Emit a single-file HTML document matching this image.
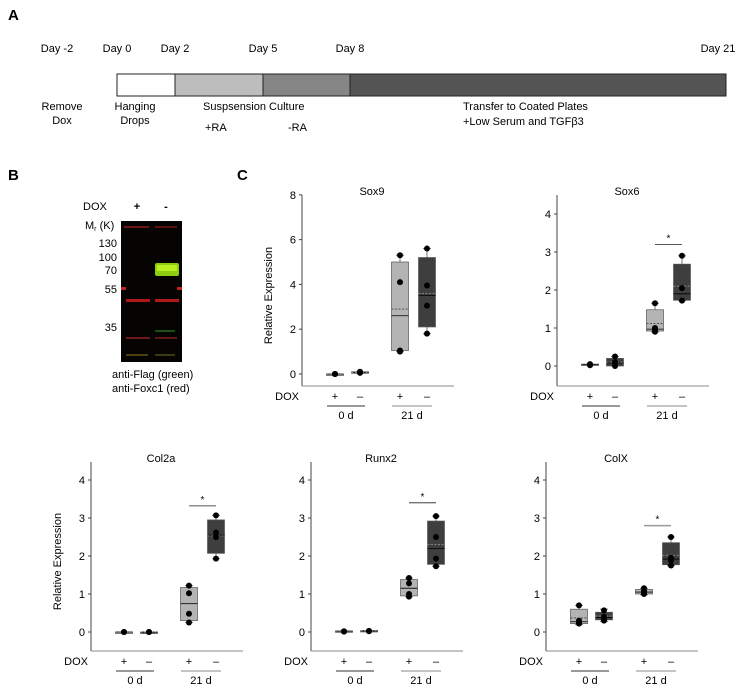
<!DOCTYPE html>
<html><head><meta charset="utf-8">
<style>
html,body{margin:0;padding:0;background:#fff;}
svg{display:block;font-family:"Liberation Sans",sans-serif;}
</style></head>
<body>
<svg id="fig" width="738" height="690" viewBox="0 0 738 690" xmlns="http://www.w3.org/2000/svg">
  <!-- Panel A -->
  <g font-size="11" fill="#000">
    <text x="8" y="20" font-size="15" font-weight="bold">A</text>
    <text x="57" y="52" text-anchor="middle">Day -2</text>
    <text x="117" y="52" text-anchor="middle">Day 0</text>
    <text x="175" y="52" text-anchor="middle">Day 2</text>
    <text x="263" y="52" text-anchor="middle">Day 5</text>
    <text x="350" y="52" text-anchor="middle">Day 8</text>
    <text x="718" y="52" text-anchor="middle">Day 21</text>
    <rect x="117" y="74" width="58" height="22" fill="#fff" stroke="#222"/>
    <rect x="175" y="74" width="88" height="22" fill="#bdbdbd" stroke="#222"/>
    <rect x="263" y="74" width="87" height="22" fill="#858585" stroke="#222"/>
    <rect x="350" y="74" width="376" height="22" fill="#545454" stroke="#222"/>
    <text text-anchor="middle"><tspan x="62" y="110">Remove</tspan><tspan x="62" y="124">Dox</tspan></text>
    <text text-anchor="middle"><tspan x="135" y="110">Hanging</tspan><tspan x="135" y="124">Drops</tspan></text>
    <text x="203" y="110">Suspsension Culture</text>
    <text x="205" y="131">+RA</text>
    <text x="288" y="131">-RA</text>
    <text x="463" y="110">Transfer to Coated Plates</text>
    <text x="463" y="125">+Low Serum and TGFβ3</text>
  </g>
  <!-- Panel B -->
  <g font-size="11">
    <text x="8" y="180" font-size="15" font-weight="bold">B</text>
    <text x="83" y="210">DOX</text>
    <text x="137" y="210" text-anchor="middle" font-weight="bold">+</text>
    <text x="166" y="210" text-anchor="middle" font-weight="bold">-</text>
    <text x="85" y="229">M<tspan font-size="7" dy="2">r</tspan><tspan dy="-2"> (K)</tspan></text>
    <rect x="121" y="221" width="61" height="141" fill="#060303"/>
    <rect x="124" y="226" width="25" height="2" fill="#6a1414"/>
    <rect x="155" y="226" width="22" height="2" fill="#5a1010"/>
    <rect x="155" y="263" width="24" height="13" rx="2" fill="#8ecc10"/>
    <rect x="157" y="265" width="20" height="6" fill="#b8f020"/>
    <rect x="121" y="287" width="5" height="3" fill="#c02020"/>
    <rect x="177" y="287" width="5" height="3" fill="#c02020"/>
    <rect x="126" y="299" width="24" height="3" fill="#b01818"/>
    <rect x="155" y="299" width="24" height="3" fill="#b01818"/>
    <rect x="155" y="330" width="20" height="2" fill="#1a5010"/>
    <rect x="126" y="337" width="24" height="2" fill="#701818"/>
    <rect x="155" y="337" width="22" height="2" fill="#601515"/>
    <rect x="126" y="354" width="22" height="2" fill="#4a4010"/>
    <rect x="155" y="354" width="20" height="2" fill="#3a3a10"/>
    <g text-anchor="end">
      <text x="117" y="247">130</text><text x="117" y="261">100</text><text x="117" y="274">70</text>
      <text x="117" y="293">55</text><text x="117" y="331">35</text>
    </g>
    <text x="112" y="378">anti-Flag (green)</text>
    <text x="112" y="392">anti-Foxc1 (red)</text>
  </g>
  <text x="237" y="180" font-size="15" font-weight="bold">C</text>
  <g id="charts"></g>
</svg>
<script>
// Box stats per group: [q1, median, q3, mean, whiskerLow, whiskerHigh]; groups: 0d+, 0d-, 21d+, 21d-
const groupSigns = ["+", "\u2013", "+", "\u2013"];
const dayLabels = ["0 d", "21 d"];
const sox9Ticks = [0, 2, 4, 6, 8];
const smallTicks = [0, 1, 2, 3, 4];
const sox9Points = [[0, 0, 0], [0.05, 0.1, 0.08], [5.3, 4.1, 1.05, 1.0], [5.6, 3.95, 3.05, 1.8]];
const sox9Box = [[0, 0, 0, 0, 0, 0], [0.03, 0.07, 0.1, 0.07, 0.03, 0.1], [1.05, 2.6, 5.0, 2.9, 1.0, 5.3], [2.1, 3.5, 5.2, 3.6, 1.8, 5.6]];
const sox6Points = [[0.05, 0.02], [0.25, 0.0, 0.1], [1.65, 1.0, 0.95, 0.9], [2.9, 2.05, 1.72]];
const sox6Box = [[0.02, 0.04, 0.05, 0.04, 0.02, 0.05], [0.0, 0.08, 0.2, 0.1, 0.0, 0.25], [0.92, 0.97, 1.48, 1.12, 0.9, 1.65], [1.73, 1.9, 2.68, 2.1, 1.72, 2.9]];
const sox6Star = 3.2;
const col2aPoints = [[0, 0], [0, 0], [1.22, 1.02, 0.48, 0.25], [3.07, 2.62, 2.5, 1.93]];
const col2aBox = [[0, 0, 0, 0, 0, 0], [0, 0, 0, 0, 0, 0], [0.3, 0.75, 1.17, 0.74, 0.25, 1.22], [2.07, 2.55, 2.95, 2.53, 1.93, 3.07]];
const col2aStar = 3.32;
const runx2Points = [[0.02, 0.01], [0.03, 0.02], [1.42, 1.28, 1.0, 0.93], [3.05, 2.5, 1.93, 1.73]];
const runx2Box = [[0.0, 0.02, 0.03, 0.02, 0.0, 0.03], [0.01, 0.03, 0.04, 0.03, 0.01, 0.04], [0.95, 1.15, 1.38, 1.16, 0.93, 1.42], [1.78, 2.2, 2.92, 2.3, 1.73, 3.05]];
const runx2Star = 3.4;
const colxPoints = [[0.7, 0.3, 0.25, 0.22], [0.57, 0.4, 0.35, 0.3], [1.15, 1.08, 1.02, 1.0], [2.5, 1.95, 1.88, 1.75]];
const colxBox = [[0.22, 0.27, 0.6, 0.37, 0.2, 0.7], [0.32, 0.38, 0.52, 0.42, 0.28, 0.6], [1.0, 1.05, 1.12, 1.06, 0.98, 1.15], [1.77, 1.92, 2.35, 2.02, 1.75, 2.5]];
const colxStar = 2.8;

const NS = "http://www.w3.org/2000/svg";
const root = document.getElementById("charts");
function mk(tag, attrs, parent) {
  const e = document.createElementNS(NS, tag);
  for (const k in attrs) e.setAttribute(k, attrs[k]);
  parent.appendChild(e);
  return e;
}
const offsets = [33, 58, 98, 125];
const fills = ["#b4b4b4", "#3e3e3e", "#b4b4b4", "#3e3e3e"];

function drawChart(name, title, cfg, ticks, pts, box, star, ylabel) {
  const g = mk("g", {}, root);
  
  
  const ax = cfg.ax, y0 = cfg.y0, ppu = cfg.ppu;
  const Y = v => y0 - v * ppu;
  const X = i => ax + offsets[i];
  const t = mk("text", {x: ax + 70, y: cfg.top, "text-anchor": "middle", "font-size": 11}, g);
  t.textContent = title;
  
  
  const yAxis = mk("line", {x1: ax, y1: cfg.top, x2: ax, y2: cfg.bot, stroke: "#444", "stroke-width": 1}, g);
  
  
  const xAxis = mk("line", {x1: ax, y1: cfg.bot, x2: ax + 152, y2: cfg.bot, stroke: "#888", "stroke-width": 1}, g);
  
  
  ticks.forEach(v => {
    mk("line", {x1: ax - 3, y1: Y(v), x2: ax, y2: Y(v), stroke: "#444"}, g);
    const tl = mk("text", {x: ax - 6, y: Y(v) + 4, "text-anchor": "end", "font-size": 11}, g);
    tl.textContent = v;
    
    
  });
  if (ylabel) {
    const cy = (cfg.top + cfg.bot) / 2 + 5;
    const yl = mk("text", {x: ax - 30, y: cy, "text-anchor": "middle", "font-size": 11, transform: "rotate(-90 " + (ax - 30) + " " + cy + ")"}, g);
    yl.textContent = "Relative Expression";
    
    
  }
  box.forEach((b, i) => {
    const x = X(i), w = 17;
    const bg = mk("g", {}, g);
    
    
    mk("line", {x1: x, y1: Y(b[5]), x2: x, y2: Y(b[4]), stroke: "#777"}, bg);
    mk("line", {x1: x - 4, y1: Y(b[5]), x2: x + 4, y2: Y(b[5]), stroke: "#777"}, bg);
    mk("line", {x1: x - 4, y1: Y(b[4]), x2: x + 4, y2: Y(b[4]), stroke: "#777"}, bg);
    const h = Math.max(Y(b[0]) - Y(b[2]), 1.5);
    mk("rect", {x: x - w / 2, y: Y(b[2]), width: w, height: h, fill: fills[i], stroke: "#555", "stroke-width": 0.7}, bg);
    mk("line", {x1: x - w / 2, y1: Y(b[1]), x2: x + w / 2, y2: Y(b[1]), stroke: "#000", "stroke-width": 0.8}, bg);
    mk("line", {x1: x - w / 2, y1: Y(b[3]), x2: x + w / 2, y2: Y(b[3]), stroke: i % 2 ? "#999" : "#444", "stroke-width": 0.8, "stroke-dasharray": "2,1.5"}, bg);
  });
  pts.forEach((arr, i) => arr.forEach(v => {
    const c = mk("circle", {cx: X(i), cy: Y(v), r: 3, fill: "#000"}, g);
    
    
  }));
  if (star !== null) {
    const sy = Y(star);
    const sl = mk("line", {x1: X(2), y1: sy, x2: X(3), y2: sy, stroke: name === "colx" ? "#999" : "#222", "stroke-width": name === "colx" ? 1.5 : 0.8}, g);
    
    
    const st = mk("text", {x: (X(2) + X(3)) / 2, y: sy - 3, "text-anchor": "middle", "font-size": 10}, g);
    st.textContent = "*";
    
    
  }
  const by = cfg.bot;
  const dx = mk("text", {x: ax - 3, y: by + 14, "text-anchor": "end", "font-size": 11}, g);
  dx.textContent = "DOX";
  
  
  groupSigns.forEach((s, i) => {
    const sl = mk("text", {x: X(i), y: by + 14, "text-anchor": "middle", "font-size": 11}, g);
    sl.textContent = s;
    
    
  });
  dayLabels.forEach((d, k) => {
    const x1 = X(2 * k) - 8, x2 = X(2 * k + 1) + 5;
    mk("line", {x1: x1, y1: by + 20, x2: x2, y2: by + 20, stroke: k ? "#888" : "#333"}, g);
    const dl = mk("text", {x: (x1 + x2) / 2, y: by + 33, "text-anchor": "middle", "font-size": 11}, g);
    dl.textContent = d;
    
    
  });
}
drawChart("sox9", "Sox9", {ax: 302, y0: 374, ppu: 22.4, top: 195, bot: 386}, sox9Ticks, sox9Points, sox9Box, null, true);
drawChart("sox6", "Sox6", {ax: 557, y0: 366, ppu: 38, top: 195, bot: 386}, smallTicks, sox6Points, sox6Box, sox6Star, false);
drawChart("col2a", "Col2a", {ax: 91, y0: 632, ppu: 38, top: 462, bot: 651}, smallTicks, col2aPoints, col2aBox, col2aStar, true);
drawChart("runx2", "Runx2", {ax: 311, y0: 632, ppu: 38, top: 462, bot: 651}, smallTicks, runx2Points, runx2Box, runx2Star, false);
drawChart("colx", "ColX", {ax: 546, y0: 632, ppu: 38, top: 462, bot: 651}, smallTicks, colxPoints, colxBox, colxStar, false);
</script>
</body></html>
